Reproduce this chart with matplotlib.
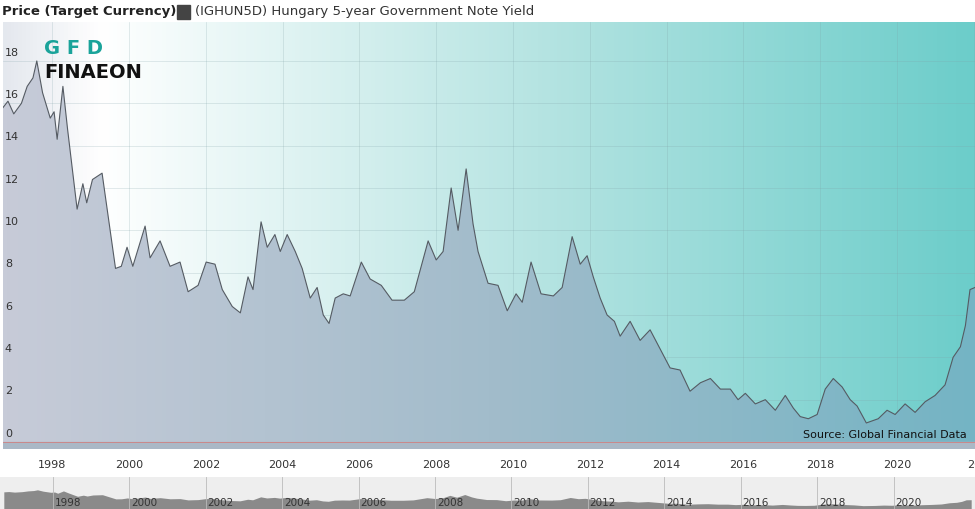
import numpy as np
import matplotlib
matplotlib.use("Agg")
import matplotlib.pyplot as plt
from matplotlib.colors import LinearSegmentedColormap

years = [1996.72,1996.85,1997.0,1997.2,1997.35,1997.5,1997.6,1997.75,1997.95,1998.05,1998.13,1998.28,1998.4,1998.65,1998.8,1998.9,1999.05,1999.3,1999.65,
1999.8,1999.95,2000.1,2000.42,2000.55,2000.81,2001.07,2001.33,2001.54,2001.8,2002.01,2002.24,2002.43,2002.69,2002.9,2003.1,2003.23,2003.44,2003.6,2003.8,2003.94,
2004.12,2004.33,2004.51,2004.72,2004.9,2005.06,2005.21,2005.37,2005.58,2005.76,2006.05,2006.28,2006.57,2006.85,2007.17,2007.43,2007.79,2008.0,2008.18,2008.39,
2008.57,2008.78,2008.96,2009.09,2009.35,2009.61,2009.85,2010.08,2010.24,2010.47,2010.73,2011.05,2011.28,2011.54,2011.75,2011.93,2012.09,2012.27,2012.45,2012.64,
2012.79,2013.05,2013.31,2013.57,2013.83,2014.09,2014.35,2014.61,2014.88,2015.14,2015.4,2015.66,2015.86,2016.05,2016.31,2016.57,2016.83,2017.09,2017.3,2017.48,
2017.69,2017.92,2018.13,2018.34,2018.57,2018.78,2018.96,2019.2,2019.51,2019.74,2019.95,2020.21,2020.47,2020.73,2020.99,2021.25,2021.46,2021.65,2021.78,2021.9,2022.03]
yields = [15.8,16.1,15.5,16.0,16.8,17.2,18.0,16.5,15.3,15.6,14.3,16.8,14.8,11.0,12.2,11.3,12.4,12.7,8.2,
8.3,9.2,8.3,10.2,8.7,9.5,8.3,8.5,7.1,7.4,8.5,8.4,7.2,6.4,6.1,7.8,7.2,10.4,9.2,9.8,9.0,
9.8,9.0,8.2,6.8,7.3,6.0,5.6,6.8,7.0,6.9,8.5,7.7,7.4,6.7,6.7,7.1,9.5,8.6,9.0,12.0,
10.0,12.9,10.3,9.0,7.5,7.4,6.2,7.0,6.6,8.5,7.0,6.9,7.3,9.7,8.4,8.8,7.8,6.8,6.0,5.7,
5.0,5.7,4.8,5.3,4.4,3.5,3.4,2.4,2.8,3.0,2.5,2.5,2.0,2.3,1.8,2.0,1.5,2.2,1.6,1.2,
1.1,1.3,2.5,3.0,2.6,2.0,1.7,0.9,1.1,1.5,1.3,1.8,1.4,1.9,2.2,2.7,4.0,4.5,5.5,7.2,7.3]
xticks = list(range(1998, 2023, 2))
xlabels = [str(y) for y in range(1998, 2021, 2)] + ["20"]
yticks = list(range(0, 19, 2))

x = np.array(years); y = np.array(yields)
x0, x1 = 1996.72, 2022.03
y0, y1 = -0.33, 19.84

fig = plt.figure(figsize=(9.75, 5.09), dpi=100)
ax = fig.add_axes([3/975, 60/509, 972/975, 427/509])
ax.set_xlim(x0, x1); ax.set_ylim(y0, y1)

bg = LinearSegmentedColormap.from_list("bg", [(0, "#e4e8ee"), (0.1, "#ffffff"), (0.55, "#b6e4e2"), (1, "#6ccdca")])
grad = np.linspace(0, 1, 256).reshape(1, -1)
ax.imshow(grad, cmap=bg, extent=[x0, x1, y0, y1], aspect="auto", zorder=0)
fc = LinearSegmentedColormap.from_list("fc", [(0, "#c7cbd8"), (0.5, "#a2bccb"), (1, "#74b4c4")])
im = ax.imshow(grad, cmap=fc, extent=[x0, x1, y0, y1], aspect="auto", zorder=1)
poly = ax.fill_between(x, 0, y, facecolor="none", edgecolor="none")
path = poly.get_paths()[0]
im.set_clip_path(path, transform=ax.transData)
ax.axhspan(y0, 0, color="#aab8c6", zorder=1)
ax.plot(x, y, color="#555b63", lw=0.8, zorder=3)
ax.axhline(0, color="#d08080", lw=0.6, zorder=3)

for t in yticks:
    ax.axhline(t, color="#7f9fa6", lw=0.5, alpha=0.3, zorder=0.5)
    ax.text(x0 + 0.05, t + 0.25, str(t), fontsize=8, color="#333", zorder=4)
for t in xticks:
    ax.axvline(t, color="#7f9fa6", lw=0.5, alpha=0.3, zorder=0.5)
ax.set_xticks(xticks); ax.set_xticklabels(xlabels, fontsize=8, color="#333")
ax.tick_params(axis="x", length=0, pad=8)
ax.set_yticks([])
for s in ax.spines.values():
    s.set_visible(False)
ax.text(0.992, 0.02, "Source: Global Financial Data", transform=ax.transAxes, ha="right", va="bottom", fontsize=8, color="#111", zorder=5)
ax.text(0.042, 0.925, "G F D", transform=ax.transAxes, fontsize=14, fontweight="bold", color="#1aa39a", zorder=5)
ax.text(0.042, 0.87, "FINAEON", transform=ax.transAxes, fontsize=14, fontweight="bold", color="#111", zorder=5)

fig.text(2/975, 1 - 12/509, "Price (Target Currency)", fontsize=9.5, fontweight="bold", color="#222", va="center")
fig.patches.append(plt.Rectangle((177/975, 1 - 19/509), 13/975, 14/509, transform=fig.transFigure, color="#444", figure=fig))
fig.text(195/975, 1 - 12/509, "(IGHUN5D) Hungary 5-year Government Note Yield", fontsize=9.5, color="#333", va="center")

nav = fig.add_axes([0, 0, 1, 32/509])
nav.set_xlim(x0 - 0.1, x1 + 0.1); nav.set_ylim(0, 19)
nav.set_facecolor("#eeeeee")
nav.fill_between(x, 0, y * 0.55 + 1.5, color="#8a8a8a", lw=0)
for t in xticks[:-1]:
    nav.axvline(t, color="#bbbbbb", lw=0.6)
    nav.text(t + 0.05, 2, str(t), fontsize=7.5, color="#333")
nav.set_xticks([]); nav.set_yticks([])
for s in nav.spines.values():
    s.set_visible(False)
fig.savefig("out.png", dpi=100)
